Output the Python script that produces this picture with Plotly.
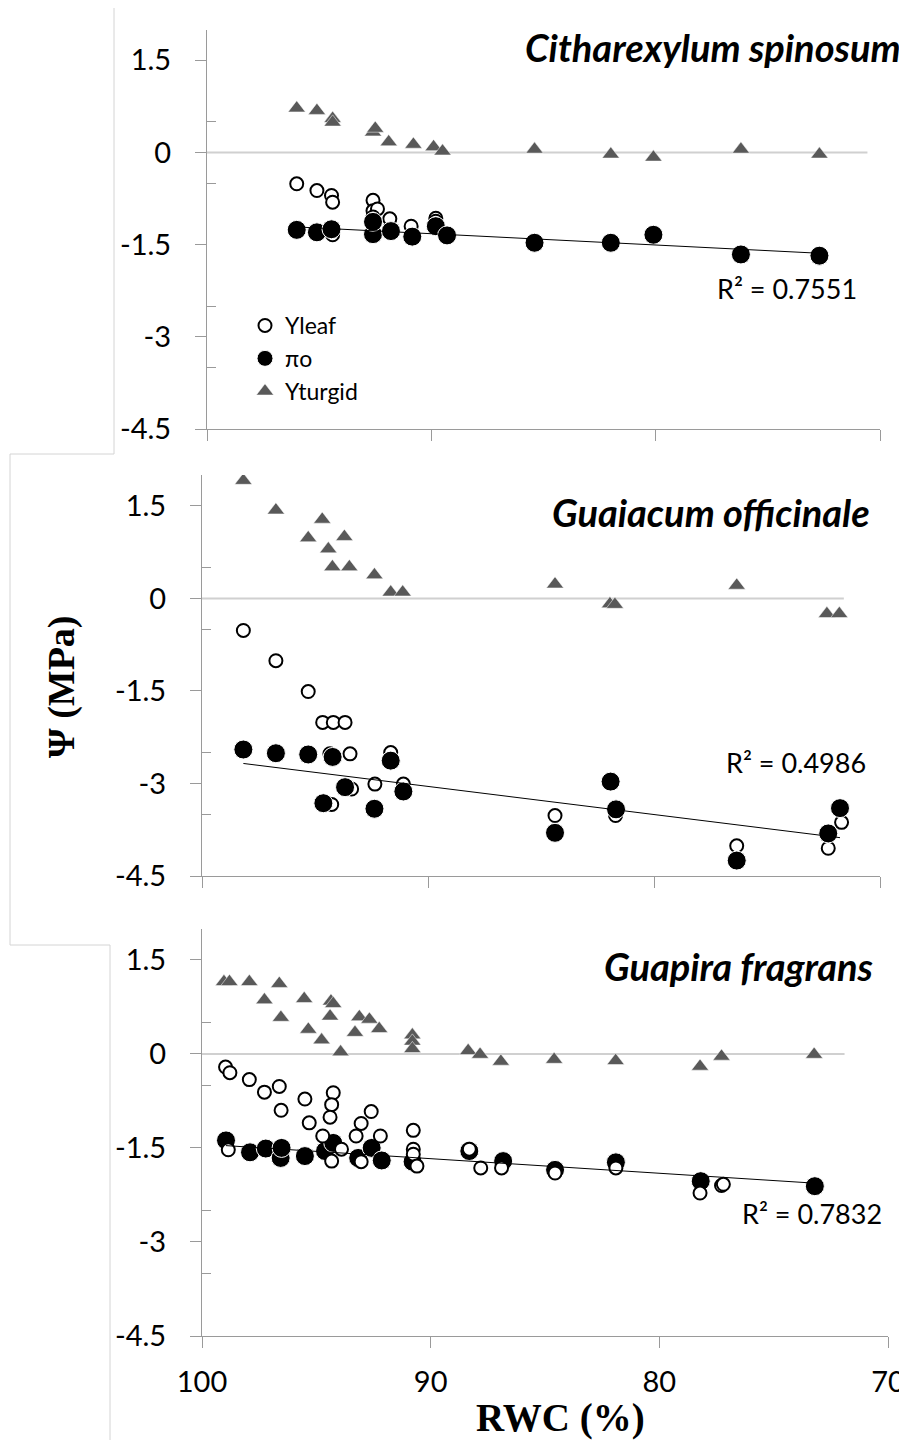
import numpy as np
import plotly.graph_objects as go

# ---------------- data ----------------
species = ["Citharexylum spinosum", "Guaiacum officinale", "Guapira fragrans"]
r2_text = ["R² = 0.7551", "R² = 0.4986", "R² = 0.7832"]

# Panel 1 – Citharexylum spinosum
leaf_x1 = [96.0, 95.1, 94.45, 94.4, 94.4, 92.6, 92.6, 92.4, 92.6, 91.85, 91.8, 90.9, 89.8, 89.8, 89.3]
leaf_y1 = [-0.51, -0.62, -0.70, -0.81, -1.34, -0.78, -0.95, -0.92, -1.05, -1.08, -1.25, -1.20, -1.07, -1.12, -1.33]
pio_x1 = [96.0, 95.1, 94.45, 92.6, 92.6, 91.8, 90.85, 89.8, 89.3, 85.4, 82.0, 80.1, 76.2, 72.7]
pio_y1 = [-1.26, -1.30, -1.25, -1.33, -1.13, -1.28, -1.37, -1.20, -1.35, -1.47, -1.47, -1.34, -1.66, -1.68]
turg_x1 = [96.0, 95.1, 94.4, 94.4, 92.6, 92.5, 91.9, 90.8, 89.9, 89.5, 85.4, 82.0, 80.1, 76.2, 72.7]
turg_y1 = [0.72, 0.68, 0.55, 0.49, 0.33, 0.39, 0.17, 0.13, 0.09, 0.02, 0.05, -0.03, -0.08, 0.05, -0.03]

# Panel 2 – Guaiacum officinale
leaf_x2 = [98.17, 96.73, 95.3, 94.66, 94.19, 93.67, 93.45, 94.34, 92.35, 93.38, 94.26, 91.65, 91.09, 84.38, 81.7, 76.34, 72.29, 71.7]
leaf_y2 = [-0.52, -1.01, -1.51, -2.01, -2.01, -2.01, -2.52, -2.52, -3.01, -3.09, -3.34, -2.50, -3.01, -3.52, -3.52, -4.01, -4.05, -3.63]
pio_x2 = [98.17, 96.73, 95.3, 94.22, 93.67, 94.63, 92.37, 91.65, 91.09, 84.38, 81.92, 81.68, 76.34, 72.29, 71.77]
pio_y2 = [-2.45, -2.51, -2.53, -2.57, -3.06, -3.32, -3.41, -2.63, -3.13, -3.80, -2.97, -3.42, -4.25, -3.81, -3.40]
turg_x2 = [98.17, 96.73, 95.3, 94.68, 94.41, 93.7, 94.23, 93.48, 92.37, 91.65, 91.12, 84.38, 81.95, 81.73, 76.34, 72.35, 71.8]
turg_y2 = [1.91, 1.43, 0.98, 1.28, 0.80, 1.0, 0.51, 0.51, 0.38, 0.10, 0.10, 0.23, -0.09, -0.10, 0.21, -0.25, -0.25]

# Panel 3 – Guapira fragrans
leaf_x3 = [98.97, 98.78, 97.93, 97.27, 96.62, 96.54, 95.5, 95.31, 94.72, 94.26, 94.33, 94.4, 93.9, 92.6, 93.04,
           93.26, 92.2, 90.76, 90.76, 90.76, 90.6, 98.85, 94.33, 93.04, 88.31, 87.81, 86.9, 84.56, 81.9, 78.22, 77.28, 77.2]
leaf_y3 = [-0.21, -0.30, -0.41, -0.61, -0.52, -0.90, -0.72, -1.10, -1.31, -0.62, -0.81, -1.01, -1.52, -0.92, -1.11,
           -1.31, -1.31, -1.22, -1.52, -1.60, -1.79, -1.53, -1.71, -1.72, -1.52, -1.82, -1.82, -1.90, -1.82, -2.22, -2.10, -2.08]
pio_x3 = [98.95, 97.9, 97.21, 96.56, 96.52, 95.5, 94.62, 94.26, 93.17, 92.58, 92.14, 90.79, 88.31, 86.83, 84.56, 81.9, 78.19, 73.2]
pio_y3 = [-1.38, -1.57, -1.51, -1.66, -1.50, -1.63, -1.55, -1.42, -1.66, -1.50, -1.70, -1.72, -1.55, -1.71, -1.85, -1.73, -2.03, -2.11]
turg_x3 = [99.04, 98.8, 97.93, 97.27, 96.62, 96.55, 95.53, 95.35, 94.77, 94.36, 94.26, 94.4, 93.94, 93.31, 93.12,
           92.68, 92.25, 90.8, 90.8, 90.8, 88.36, 87.84, 86.93, 84.6, 81.91, 78.22, 77.28, 73.23]
turg_y3 = [1.15, 1.15, 1.15, 0.86, 1.12, 0.58, 0.88, 0.39, 0.22, 0.84, 0.80, 0.60, 0.03, 0.34, 0.59,
           0.55, 0.40, 0.30, 0.20, 0.08, 0.05, -0.01, -0.12, -0.09, -0.11, -0.20, -0.04, -0.01]

zero_line_end = [70.56, 71.6, 71.9]   # RWC where the grey 0 line stops in each panel

y_tickvals = [-4.5, -3, -1.5, 0, 1.5]
y_ticktext = ["-4.5", "-3", "-1.5", "0", "1.5"]
y_minorvals = [-3.5, -2.5, -0.5, 0.5]
x_tickvals = [100, 90, 80, 70]
x_ticktext = ["100", "90", "80", "70"]

panels = [
    (leaf_x1, leaf_y1, pio_x1, pio_y1, turg_x1, turg_y1, False),
    (leaf_x2, leaf_y2, pio_x2, pio_y2, turg_x2, turg_y2, False),
    (leaf_x3, leaf_y3, pio_x3, pio_y3, turg_x3, turg_y3, True),   # open circles on top in panel 3
]

# ---------------- layout geometry (page pixels) ----------------
OFF = 8                      # default page margin in front of the figure
W, H = 907 - OFF, 1440 - OFF

def px(x):
    return (x - OFF) / W

def py(y):
    return 1 - (y - OFF) / H

x_px = [(207, 880), (202, 880), (202, 888)]
y_px = [(29.5, 429), (475, 876), (928.5, 1336)]

FONT = "Lato"
AXC = "#9a9a9a"

fig = go.Figure()

def leaf_trace(x, y, ax, show):
    return go.Scatter(x=x, y=y, mode="markers", name="Yleaf", xaxis=ax[0], yaxis=ax[1],
                      showlegend=show, legendgroup="a",
                      marker=dict(symbol="circle", size=13, color="white",
                                  line=dict(color="black", width=2)))

def pio_trace(x, y, ax, show):
    return go.Scatter(x=x, y=y, mode="markers", name="πo", xaxis=ax[0], yaxis=ax[1],
                      showlegend=show, legendgroup="b",
                      marker=dict(symbol="circle", size=19, color="black",
                                  line=dict(color="white", width=1)))

for i, (lx, ly, px_, py_, tx, ty, leaf_top) in enumerate(panels):
    n = "" if i == 0 else str(i + 1)
    ax = ("x" + n, "y" + n)
    show = (i == 0)
    fig.add_trace(go.Scatter(x=[100, zero_line_end[i]], y=[0, 0], mode="lines",
                             xaxis=ax[0], yaxis=ax[1], showlegend=False, hoverinfo="skip",
                             line=dict(color="#d0d0d0", width=2)))
    if leaf_top:
        fig.add_trace(pio_trace(px_, py_, ax, show))
        fig.add_trace(leaf_trace(lx, ly, ax, show))
    else:
        fig.add_trace(leaf_trace(lx, ly, ax, show))
        fig.add_trace(pio_trace(px_, py_, ax, show))
    fig.add_trace(go.Scatter(x=tx, y=ty, mode="markers", name="Yturgid", xaxis=ax[0], yaxis=ax[1],
                             showlegend=show, legendgroup="c",
                             marker=dict(symbol="triangle-up", size=15, color="#595959",
                                         line=dict(color="white", width=0.5))))
    k, b = np.polyfit(px_, py_, 1)
    xs = np.array([max(px_), min(px_)])
    fig.add_trace(go.Scatter(x=xs, y=k * xs + b, mode="lines", xaxis=ax[0], yaxis=ax[1],
                             showlegend=False, hoverinfo="skip",
                             line=dict(color="black", width=1)))

    xd = [px(x_px[i][0]), px(x_px[i][1])]
    yd = [py(y_px[i][1]), py(y_px[i][0])]
    fig.layout["xaxis" + n] = dict(
        domain=xd, range=[100, 70], anchor="y" + n, automargin=False,
        tickmode="array", tickvals=x_tickvals, ticktext=x_ticktext,
        showticklabels=(i == 2), ticks="outside", ticklen=11, tickcolor=AXC, tickwidth=1,
        showline=True, linecolor=AXC, linewidth=1, showgrid=False, zeroline=False,
        tickfont=dict(family=FONT, size=29, color="black"), ticklabelstandoff=9,
    )
    fig.layout["yaxis" + n] = dict(
        domain=yd, range=[-4.5, 2], anchor="x" + n, automargin=False,
        tickmode="array", tickvals=y_tickvals, ticktext=y_ticktext,
        ticks="outside", ticklen=11, tickcolor=AXC, tickwidth=1,
        minor=dict(tickmode="array", tickvals=y_minorvals, ticks="inside", ticklen=9,
                   tickcolor=AXC, showgrid=False),
        showline=True, linecolor=AXC, linewidth=1, showgrid=False, zeroline=False,
        tickfont=dict(family=FONT, size=29, color="black"), ticklabelstandoff=18,
    )

annotations = []
title_pos = [(903, 47), (872, 512), (875, 966)]
for i, (tx_, ty_) in enumerate(title_pos):
    annotations.append(dict(text="<b><i>" + species[i] + "</i></b>", x=px(tx_), y=py(ty_),
                            xref="paper", yref="paper", xanchor="right", yanchor="middle",
                            showarrow=False, font=dict(family=FONT, size=38, color="black")))
r2_pos = [(787, 289), (796, 762), (812, 1213)]
for i, (rx, ry) in enumerate(r2_pos):
    annotations.append(dict(text=r2_text[i], x=px(rx), y=py(ry), xref="paper", yref="paper",
                            xanchor="center", yanchor="middle", showarrow=False,
                            font=dict(family=FONT, size=27, color="black")))
annotations.append(dict(text="<b>Ψ (MPa)</b>", x=px(61), y=py(687), xref="paper", yref="paper",
                        textangle=-90, xanchor="center", yanchor="middle", showarrow=False,
                        font=dict(family="Liberation Serif", size=38, color="black")))
annotations.append(dict(text="<b>RWC (%)</b>", x=px(560), y=py(1418), xref="paper", yref="paper",
                        xanchor="center", yanchor="middle", showarrow=False,
                        font=dict(family="Liberation Serif", size=39, color="black")))

frame = [((114, 8), (114, 454)), ((10, 454), (114, 454)), ((10, 454), (10, 945)),
         ((10, 945), (110, 945)), ((110, 945), (110, 1440))]
shapes = [dict(type="line", xref="paper", yref="paper", x0=px(a[0]), y0=py(a[1]),
               x1=px(b_[0]), y1=py(b_[1]), line=dict(color="#d4d4d4", width=1))
          for a, b_ in frame]

fig.update_layout(
    width=W, height=H, margin=dict(l=0, r=0, t=0, b=0, autoexpand=False),
    paper_bgcolor="white", plot_bgcolor="white",
    annotations=annotations, shapes=shapes,
    legend=dict(x=px(245), y=py(304), xanchor="left", yanchor="top",
                font=dict(family=FONT, size=23, color="black"), bgcolor="rgba(0,0,0,0)",
                tracegroupgap=0, itemsizing="trace"),
    font=dict(family=FONT),
)

fig.write_html("out.html")
